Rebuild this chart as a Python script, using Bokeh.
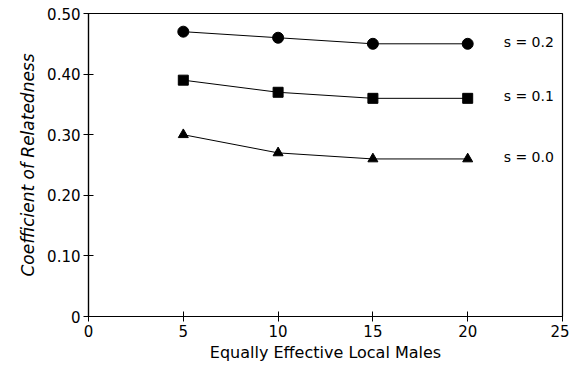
from bokeh.plotting import figure
from bokeh.models import FixedTicker, Range1d
from bokeh.core.properties import value
from bokeh.embed import file_html
from bokeh.resources import INLINE

males = [5, 10, 15, 20]
r_s02 = [0.47, 0.46, 0.45, 0.45]
r_s01 = [0.39, 0.37, 0.36, 0.36]
r_s00 = [0.30, 0.27, 0.26, 0.26]
series_labels = ["s = 0.2", "s = 0.1", "s = 0.0"]
x_ticks = [0, 5, 10, 15, 20, 25]
y_ticks = [0, 0.1, 0.2, 0.3, 0.4, 0.5]
y_tick_labels = ["0", "0.10", "0.20", "0.30", "0.40", "0.50"]

FONT = "DejaVu Sans"

p = figure(output_backend="svg", toolbar_location=None,
           frame_width=474, frame_height=303,
           min_border_left=88, min_border_right=7, min_border_top=13, min_border_bottom=50,
           x_range=Range1d(0, 25), y_range=Range1d(0, 0.5))
p.background_fill_color = "white"
p.border_fill_color = "white"
p.grid.visible = False
p.outline_line_color = "black"
p.outline_line_width = 1.2

for ax in (p.xaxis[0], p.yaxis[0]):
    ax.major_tick_in = 5
    ax.major_tick_out = 5
    ax.minor_tick_line_color = None
    ax.axis_line_color = "black"
    ax.axis_line_width = 1.2
    ax.major_tick_line_color = "black"
    ax.major_label_text_font = FONT
    ax.major_label_text_font_size = "15px"
    ax.major_label_text_color = "black"
    ax.axis_label_text_font = FONT
    ax.axis_label_text_color = "black"

p.xaxis.ticker = FixedTicker(ticks=x_ticks)
p.yaxis.ticker = FixedTicker(ticks=y_ticks)
p.yaxis.major_label_overrides = {t: l for t, l in zip(y_ticks, y_tick_labels)}
p.xaxis.axis_label = "Equally Effective Local Males"
p.yaxis.axis_label = "Coefficient of Relatedness"
p.xaxis.axis_label_text_font_style = "normal"
p.yaxis.axis_label_text_font_style = "italic"
p.xaxis.axis_label_text_font_size = "16px"
p.yaxis.axis_label_text_font_size = "17px"
p.xaxis.axis_label_standoff = 3
p.yaxis.axis_label_standoff = 6
p.xaxis.major_label_standoff = 3
p.yaxis.major_label_standoff = 3

p.line(males, r_s02, line_color="black", line_width=1)
p.scatter(males, r_s02, marker="circle", size=11, color="black")
p.line(males, r_s01, line_color="black", line_width=1)
p.scatter(males, r_s01, marker="square", size=10, color="black")
p.line(males, r_s00, line_color="black", line_width=1)
p.scatter(males, r_s00, marker="triangle", size=10, color="black")

last_x = [males[-1]] * 3
last_y = [r_s02[-1], r_s01[-1], r_s00[-1]]
p.text(last_x, last_y, text=series_labels, x_offset=36, y_offset=-2,
       text_font=value(FONT), text_font_size="14px", text_color="black",
       text_baseline="middle", text_align="left")

open("out.html", "w").write(file_html(p, INLINE))
